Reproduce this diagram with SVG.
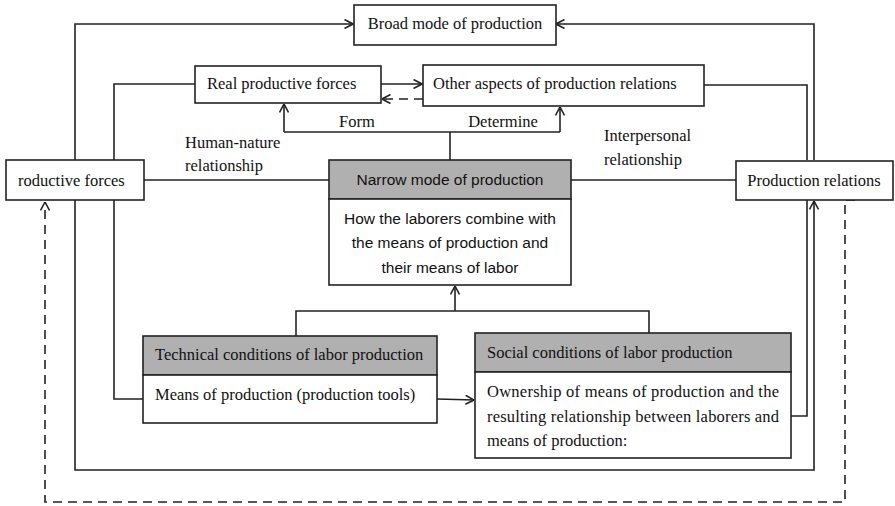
<svg xmlns="http://www.w3.org/2000/svg" width="895" height="506" viewBox="0 0 895 506">
<defs>
<marker id="arr" viewBox="0 0 10 10" refX="9.5" refY="5" markerWidth="10" markerHeight="10" markerUnits="userSpaceOnUse" orient="auto">
<path d="M1,0.5 L9.5,5 L1,9.5" fill="none" stroke="#222" stroke-width="1.6"/>
</marker>
</defs>
<style>
.box{fill:#fff;stroke:#222;stroke-width:1.6}
.hdr{fill:#b0b0b0;stroke:#222;stroke-width:1.6}
.ln{fill:none;stroke:#222;stroke-width:1.6}
.dash{fill:none;stroke:#222;stroke-width:1.6;stroke-dasharray:9,6}
.serif{font-family:"Liberation Serif","Times New Roman",serif;font-size:16.5px;fill:#111}
.sans{font-family:"Liberation Sans",Arial,sans-serif;font-size:15.5px;fill:#111}
</style>
<rect width="895" height="506" fill="#fff"/>
<g id="connectors">
<path class="ln" d="M75,160 V24 H353" marker-end="url(#arr)"/>
<path class="ln" d="M814,160 V24 H556" marker-end="url(#arr)"/>
<path class="ln" d="M195,84 H114 V160"/>
<path class="ln" d="M381,84 H422" marker-end="url(#arr)"/>
<path class="dash" d="M423,99 H382" marker-end="url(#arr)"/>
<path class="ln" d="M704,85 H807 V160"/>
<path class="ln" d="M450,160 V132"/>
<path class="ln" d="M284,132 H560"/>
<path class="ln" d="M284,132 V104" marker-end="url(#arr)"/>
<path class="ln" d="M560,132 V107" marker-end="url(#arr)"/>
<path class="ln" d="M144,180 H329"/>
<path class="ln" d="M571,180 H736"/>
<path class="ln" d="M75,200 V470 H814 V201" marker-end="url(#arr)"/>
<path class="ln" d="M114,200 V399 H143"/>
<path class="ln" d="M791,416 H807 V200"/>
<path class="ln" d="M296,336 V311 H649 V334"/>
<path class="ln" d="M455,311 V286" marker-end="url(#arr)"/>
<path class="ln" d="M437,399 L474,400" marker-end="url(#arr)"/>
<path class="dash" d="M855,200 H845 V502 H45 V202" marker-end="url(#arr)"/>
</g>
<g id="labels">
<text class="serif" x="357" y="127" text-anchor="middle">Form</text>
<text class="serif" x="503" y="127" text-anchor="middle">Determine</text>
<text class="serif" x="185" y="148">Human-nature</text>
<text class="serif" x="185" y="171">relationship</text>
<text class="serif" x="604" y="141">Interpersonal</text>
<text class="serif" x="604" y="165">relationship</text>
</g>
<g id="broad">
<rect class="box" x="354" y="5" width="202" height="40"/>
<text class="serif" x="455" y="29" text-anchor="middle">Broad mode of production</text>
</g>
<g id="real">
<rect class="box" x="195" y="66" width="186" height="37"/>
<text class="serif" x="207" y="89">Real productive forces</text>
</g>
<g id="other">
<rect class="box" x="423" y="65" width="281" height="41"/>
<text class="serif" x="433" y="89">Other aspects of production relations</text>
</g>
<g id="productive">
<rect class="box" x="6" y="160" width="138" height="40"/>
<text class="serif" x="18" y="186">roductive forces</text>
</g>
<g id="relations">
<rect class="box" x="736" y="161" width="157" height="39"/>
<text class="serif" x="814" y="186" text-anchor="middle">Production relations</text>
</g>
<g id="narrow">
<rect class="hdr" x="329" y="160" width="242" height="39"/>
<rect class="box" x="329" y="199" width="242" height="86"/>
<text class="sans" x="450" y="185" text-anchor="middle">Narrow mode of production</text>
<text class="sans" x="450" y="224" text-anchor="middle">How the laborers combine with</text>
<text class="sans" x="450" y="248" text-anchor="middle">the means of production and</text>
<text class="sans" x="450" y="273" text-anchor="middle">their means of labor</text>
</g>
<g id="technical">
<rect class="hdr" x="143" y="336" width="294" height="39"/>
<rect class="box" x="143" y="375" width="294" height="48"/>
<text class="serif" x="155" y="360">Technical conditions of labor production</text>
<text class="serif" x="155" y="400">Means of production (production tools)</text>
</g>
<g id="social">
<rect class="hdr" x="475" y="333" width="316" height="39"/>
<rect class="box" x="475" y="372" width="316" height="86"/>
<text class="serif" x="487" y="358">Social conditions of labor production</text>
<text class="serif" x="487" y="397" textLength="292" lengthAdjust="spacing">Ownership of means of production and the</text>
<text class="serif" x="487" y="422" textLength="292" lengthAdjust="spacing">resulting relationship between laborers and</text>
<text class="serif" x="487" y="446">means of production:</text>
</g>
</svg>
